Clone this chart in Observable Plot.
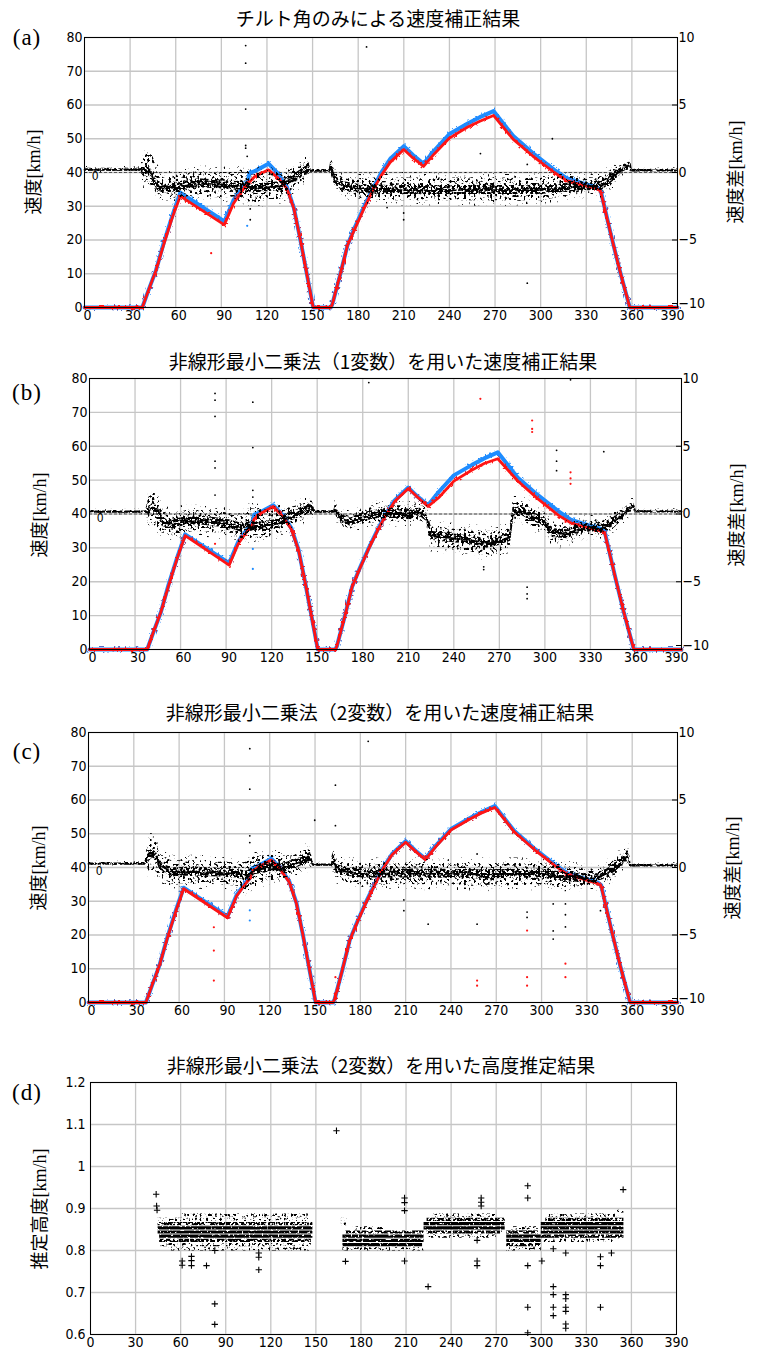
<!DOCTYPE html>
<html><head><meta charset="utf-8">
<script src="https://cdn.jsdelivr.net/npm/d3@7"></script>
<script src="https://cdn.jsdelivr.net/npm/@observablehq/plot@0.6"></script>
<style>
body{margin:0;background:#fff;}
#root{position:relative;width:758px;height:1349px;overflow:hidden;background:#fff;}
.panel{position:absolute;left:0;}
.lbl{position:absolute;white-space:nowrap;transform:translate(-50%,-50%);color:#000;line-height:1;}
.title{font-family:"Noto Sans CJK JP",sans-serif;font-size:19px;}
.tag{font-family:"Liberation Serif","DejaVu Serif",serif;font-size:23px;letter-spacing:1px;}
.ylab{font-family:"Noto Sans CJK JP",sans-serif;font-size:18px;transform:translate(-50%,-50%) rotate(-90deg);}
.ylab span{font-family:"Liberation Serif","DejaVu Serif",serif;}
</style></head><body><div id="root"></div>
<svg width="0" height="0" style="position:absolute" id="fx"></svg>
<script>
// ---------- ticks ----------
const timeTicks = [0,30,60,90,120,150,180,210,240,270,300,330,360,390];
const speedTicks = [0,10,20,30,40,50,60,70,80];
const diffTicks = [-10,-5,0,5,10];
const heightTicks = [0.6,0.7,0.8,0.9,1,1.1,1.2];

// ---------- speed curves (km/h) ----------
const speedTime = [0,38,42,47,52,58,63,92,98,104,107,108.5,112,121,127,133,137.7,142,150.4,162,163,168,173,178,184,190,195,201,210,216,223,230,240,252,260,269,282,295,309,317,328,337,339.4,346,352,358.6,390];
const refSpeed = [0,0,5,11,19,27.5,34,25.5,31.8,35.5,37,39.8,40.4,42.6,39.8,35.8,29.5,20,0,0,1,9.5,18.5,24,30,35.5,39.8,44,47.8,45.2,42.6,46.5,51.4,54.5,56.4,58.2,50.8,45.7,40.8,38.3,36.8,35.6,34.8,22,11,0,0];
const corrSpeedA = [0,0,5,11,18.5,27,33,24.5,30.8,34.8,36.3,37.2,38.8,40.8,38.5,35.3,29.3,20,0,0,1,9.5,18.5,23.5,29.5,35,39,43,46.8,44.3,41.8,45.5,50.2,53.5,55.2,56.9,49.8,44.8,40,37.6,36.2,35.2,34.5,22,11,0,0];
const corrSpeedB = [0,0,5,11,18.7,27.2,33.6,24.9,31.2,35,36.6,38.5,40,42.2,39.5,35.5,29.3,20,0,0,1,9.5,18.5,23.8,29.8,35.3,39.5,43.7,47.5,45,42.2,44.8,49.7,53,54.9,56.3,49.8,44.6,39.6,37.4,36,35,34.5,22,11,0,0];
const corrSpeedC = [0,0,5,11,18.8,27.3,33.7,25.1,31.5,35.2,36.8,38.8,40,42.2,39.5,35.6,29.3,20,0,0,1,9.5,18.5,23.8,29.8,35.3,39.6,43.8,47.5,45,42.3,46.2,51.1,54.2,56.1,57.8,50.5,45.4,40.5,38,36.5,35.3,34.6,22,11,0,0];

// ---------- speed difference clouds (km/h, right axis): centre, lower, upper ----------
const diffTimeA = [0,37,39,42,45,48,52,60,75,90,100,105,110,120,130,135,140,145,148,149,161,162,165,170,180,200,250,300,320,335,340,345,350,355,358.7,359.5,390];
const diffMeanA = [0.2,0.2,0,0.3,-0.4,-1,-1.2,-1.1,-0.8,-0.9,-1,-0.9,-1.2,-1.1,-1,-0.5,-0.3,0.1,0.2,0.12,0.12,0.5,-0.6,-1,-1.2,-1.3,-1.3,-1.3,-1.1,-1,-1,-0.6,-0.1,0.27,0.64,0.15,0.15];
const diffLowA = [0.08,0.08,-0.8,-0.6,-1.2,-1.6,-1.8,-1.9,-1.7,-1.9,-1.8,-2,-2.5,-2,-2,-1.4,-1,-0.5,-0.1,0.02,0.02,-0.1,-1.1,-1.5,-1.9,-2.1,-2.1,-2.1,-1.7,-1.5,-1.5,-1.1,-0.6,-0.1,0.3,0.05,0.05];
const diffHighA = [0.32,0.32,1,1.6,1.2,0.2,-0.4,-0.2,0.1,0,0,0.3,-0.1,0,0,0.2,0.4,0.7,0.9,0.22,0.22,0.9,0,-0.4,-0.4,-0.4,-0.4,-0.4,-0.3,-0.4,-0.3,0.1,0.4,0.6,0.9,0.25,0.25];

const diffTimeB = [0,37,39,42,45,48,55,60,75,90,100,105,115,125,130,140,147,148.5,161,162,165,172,178,190,205,218,222,225,240,255,262,270,277,279,285,292,300,305,315,320,330,337,345,352,358.5,359.5,390];
const diffMeanB = [0.15,0.15,0.3,0.5,0.2,-0.6,-0.8,-0.6,-0.5,-0.7,-1,-0.9,-0.9,-0.7,-0.3,0.1,0.5,0.15,0.15,0.3,-0.3,-0.6,-0.3,0,0,0.1,-0.2,-1.6,-1.8,-2,-2.2,-2,-1.7,0.2,0.2,-0.2,-0.6,-1.4,-1.5,-1.2,-1,-1.1,-0.6,0,0.6,0.18,0.18];
const diffLowB = [0.05,0.05,-0.6,-0.8,-1,-1.4,-1.6,-1.4,-1.3,-1.5,-1.8,-1.8,-1.8,-1.5,-1,-0.5,0,0.05,0.05,0,-0.8,-1.1,-0.8,-0.6,-0.6,-0.5,-0.8,-2.4,-2.6,-2.9,-3.1,-2.8,-2.5,-0.5,-0.5,-0.9,-1.3,-2.1,-2.2,-1.8,-1.5,-1.6,-1.1,-0.4,0.3,0.08,0.08];
const diffHighB = [0.25,0.25,1.2,1.7,1.3,0.2,0,0.2,0.3,0.1,-0.2,0.4,0.3,0.2,0.4,0.7,1,0.25,0.25,0.8,0.1,-0.2,0.2,0.6,0.6,0.7,0.4,-0.9,-1.1,-1.2,-1.3,-1.2,-1,0.9,0.9,0.5,0.1,-0.8,-0.9,-0.6,-0.5,-0.6,-0.1,0.4,0.9,0.28,0.28];

const diffTimeC = [0,37,39,42,45,47,55,70,90,100,105,110,120,130,140,147,148.5,161,162,164,170,180,220,260,300,315,330,337,345,352,357.5,358.5,390];
const diffMeanC = [0.27,0.27,0.6,1,0.8,0.2,-0.35,-0.3,-0.4,-0.5,-0.6,-0.2,0,0,0.4,0.8,0.2,0.2,0.8,-0.1,-0.3,-0.45,-0.45,-0.5,-0.45,-0.7,-0.8,-0.8,-0.3,0.3,0.9,0.15,0.15];
const diffLowC = [0.17,0.17,-0.3,-0.2,-0.3,-0.7,-1.2,-1.2,-1.3,-1.4,-1.8,-1.2,-1,-0.8,-0.3,0,0.1,0.1,0,-0.8,-1.1,-1.3,-1.3,-1.4,-1.3,-1.4,-1.4,-1.4,-0.9,-0.3,0.4,0.05,0.05];
const diffHighC = [0.37,0.37,1.5,2.3,2,1,0.5,0.5,0.4,0.3,0.4,0.8,0.9,0.8,1,1.6,0.3,0.3,1.5,0.5,0.3,0.3,0.3,0.3,0.3,0.1,-0.1,-0.2,0.3,0.9,1.6,0.25,0.25];

// isolated speed-difference points (right axis)
const diffOutTimeA = [106,106,106,106,106,107,109,109,185.5,199,209.9,209.9,260.4,291.2,307.7,291.2];
const diffOutA = [9.4,8.1,4.7,2.0,1.8,1.2,-2.7,-3.5,9.3,-2.6,-3.0,-3.5,1.4,0.6,2.5,-8.2];
const diffOutTimeB = [82.7,82.7,82.7,82.7,82.7,82.7,107.6,107.6,107.6,107.6,184,316.9,307.7,307.7,307.7,288.3,288.3,288.3,259.7,259.7,338.8];
const diffOutB = [8.9,8.4,7.2,3.9,3.4,1.4,8.25,4.9,1.75,1.25,9.7,9.9,4.7,3.9,3.2,-5.4,-5.9,-6.25,-3.9,-4.1,4.6];
const diffOutTimeC = [106.8,106.8,106.8,106.8,163.5,163.5,185.2,149.8,257.3,257.3,290.4,290.4,307.7,307.7,307.7,315.8,315.8,315.8,339,224.9,208.8,208.8];
const diffOutC = [8.8,5.8,2.35,1.85,6.1,3.1,9.35,3.5,1.0,-4.2,-3.3,-3.7,-2.7,-4.7,-5.3,-2.7,-3.5,-4.4,-3.2,-4.2,-2.4,-3.2];

// isolated speed points (left axis)
const corrOutTimeA = [83.3];
const corrOutA = [16.1];
const corrOutTimeB = [82.7,257.5,291.6,291.6,291.6,316.9,316.9,316.9];
const corrOutB = [31.2,74,67.6,65.1,64.2,52.3,50.5,48.9];
const corrOutTimeC = [83,83,83,163.5,257.3,257.3,290.4,290.4,290.4,315.8,315.8];
const corrOutC = [22.3,15.4,6.5,7.5,6.5,5,21.3,7.5,5,11.5,7.5];
const refOutTimeA = [107];
const refOutA = [24.2];
const refOutTimeB = [107.6,107.6];
const refOutB = [29.7,23.8];
const refOutTimeC = [106.8,106.8];
const refOutC = [27.3,24.3];

const zeroLabel = [{t: 7, d: 0, s: "0"}];

// ---------- (d) estimated height ----------
const denseRowStart = [45,45,46,168,168,168,222,222,277,277,300,300,300];
const denseRowEnd   = [148,148,148,222,222,221,276,276,300,300,355,355,355];
const denseRowLevel = [0.844,0.854,0.834,0.824,0.834,0.814,0.864,0.854,0.834,0.824,0.854,0.864,0.844];
const midRowStart = [45,46,170,224,224,277,277,300,303];
const midRowEnd   = [148,147,222,274,276,298,300,355,355];
const midRowLevel = [0.864,0.824,0.844,0.844,0.874,0.844,0.814,0.834,0.874];
const sparseRowStart = [45,47,50,60,168,167,167,175,225,228,277,280,302,305,350];
const sparseRowEnd   = [147,147,146,145,222,171,171,195,270,270,300,298,352,352,355];
const sparseRowLevel = [0.874,0.814,0.804,0.884,0.804,0.864,0.874,0.854,0.834,0.884,0.804,0.854,0.824,0.884,0.894];
const heightOutTime = [43.7,44,44.3,61,61,67.2,67.2,67.2,77.2,82.7,82.7,82.7,112,112,112,163.7,169.7,209,209,209,209,224.7,260,260,260,257.3,257.3,257.3,291,291,291,291,291,300.4,308,308,308,308,308,316.3,316.3,316.3,316.3,316.3,316.3,316.3,339.4,339.4,339.4,346.7,354.5];
const heightOut = [0.934,0.906,0.896,0.775,0.765,0.786,0.776,0.764,0.764,0.673,0.624,0.8,0.754,0.784,0.794,1.085,0.774,0.925,0.914,0.895,0.775,0.714,0.925,0.915,0.906,0.824,0.775,0.764,0.954,0.925,0.764,0.665,0.604,0.775,0.804,0.714,0.695,0.665,0.645,0.794,0.695,0.685,0.665,0.655,0.625,0.615,0.785,0.764,0.665,0.794,0.945];

// ---------- helpers ----------
const zip = (keys, ...arrs) => arrs[0].map((_, i) => Object.fromEntries(keys.map((k, j) => [k, arrs[j][i]])));
const toLeft = d => 40 + 4 * d;                 // speed difference → speed axis units
const signed = v => v < 0 ? "\u2212" + (-v) : String(v);
const BLUE = "#1e8cff", RED = "#ff1414";
const tickFont = "'Liberation Sans Narrow','DejaVu Sans Condensed','Liberation Sans',sans-serif";
const gridStyle = {stroke: "#c6c6c6", strokeOpacity: 1, strokeWidth: 1.3};

// speckle filters (texture for the dense point clouds)
const defs = d3.select("#fx").append("defs");
function speckle(id, freq, thr, seed) {
  const f = defs.append("filter").attr("id", id).attr("x", "-2%").attr("y", "-40%")
    .attr("width", "104%").attr("height", "180%").attr("color-interpolation-filters", "sRGB");
  f.append("feTurbulence").attr("type", "fractalNoise").attr("baseFrequency", freq)
    .attr("numOctaves", 1).attr("seed", seed).attr("result", "n");
  const k = 14;
  f.append("feColorMatrix").attr("in", "n").attr("type", "matrix")
    .attr("values", `0 0 0 0 0  0 0 0 0 0  0 0 0 0 0  ${k} 0 0 0 ${-k * thr}`).attr("result", "m");
  f.append("feComposite").attr("in", "SourceGraphic").attr("in2", "m").attr("operator", "in");
}
speckle("spk-vsparse", 0.42, 0.66, 21);
speckle("spk-sparse", 0.42, 0.56, 3);
speckle("spk-dense", 0.42, 0.46, 7);
speckle("spk-line", 0.5, 0.4, 11);
speckle("spk-halo", 0.45, 0.6, 17);
speckle("spk-row-dense", 0.45, 0.3, 5);
speckle("spk-row-mid", 0.45, 0.42, 9);
speckle("spk-row-sparse", 0.45, 0.54, 13);
function applySpeckle(svg) {
  svg.querySelectorAll("[aria-description^='spk-']").forEach(g =>
    g.setAttribute("filter", `url(#${g.getAttribute("aria-description")})`));
}

const root = document.getElementById("root");
function label(cls, x, y, html) {
  const d = document.createElement("div");
  d.className = "lbl " + cls;
  d.style.left = x + "px"; d.style.top = y + "px";
  d.innerHTML = html;
  root.appendChild(d);
}

function speedPanel(p) {
  const ref = zip(["t", "v"], speedTime, refSpeed);
  const corr = zip(["t", "v"], speedTime, p.corr);
  const diff = zip(["t", "m", "lo", "hi"], p.dt, p.dm, p.dlo, p.dhi);
  const out = zip(["t", "d"], p.ot, p.od);
  const rOut = zip(["t", "v"], p.rot, p.ro);
  const bOut = zip(["t", "v"], p.bot, p.bo);
  const inner = d => Math.min(0.33, (d.hi - d.lo) / 3);
  const outer = d => Math.min(0.4, (d.hi - d.lo) / 2);
  const chart = Plot.plot({
    width: 758, height: p.mt + p.h + p.mb,
    marginLeft: p.ml, marginRight: p.mr, marginTop: p.mt, marginBottom: p.mb,
    x: {domain: [0, 390], axis: null},
    y: {domain: [0, 80], axis: null},
    style: {fontFamily: tickFont, fontSize: "14px", background: "white", color: "black"},
    marks: [
      Plot.gridX(timeTicks, gridStyle),
      Plot.gridY(speedTicks, gridStyle),
      p.dashed ? Plot.ruleY([0], {y: toLeft, stroke: "#555", strokeWidth: 1, strokeDasharray: "3,2"}) : null,
      Plot.line(ref, {x: "t", y: "v", stroke: BLUE, strokeWidth: 7, ariaDescription: "spk-halo"}),
      Plot.line(ref, {x: "t", y: "v", stroke: BLUE, strokeWidth: 4}),
      Plot.dot(bOut, {x: "t", y: "v", r: 1.1, fill: BLUE}),
      Plot.line(corr, {x: "t", y: "v", stroke: RED, strokeWidth: 5.5, ariaDescription: "spk-halo"}),
      Plot.line(corr, {x: "t", y: "v", stroke: RED, strokeWidth: 2.8}),
      Plot.dot(rOut, {x: "t", y: "v", r: 1.1, fill: RED}),
      Plot.areaY(diff, {x: "t", y1: d => toLeft(d.lo - outer(d)), y2: d => toLeft(d.hi + outer(d)), fill: "black", ariaDescription: "spk-vsparse"}),
      Plot.areaY(diff, {x: "t", y1: d => toLeft(d.lo), y2: d => toLeft(d.hi), fill: "black", ariaDescription: "spk-sparse"}),
      Plot.areaY(diff, {x: "t", y1: d => toLeft(d.m - inner(d)), y2: d => toLeft(d.m + inner(d)), fill: "black", ariaDescription: "spk-dense"}),
      Plot.line(diff, {x: "t", y: d => toLeft(d.m), stroke: "black", strokeWidth: 1.8, ariaDescription: "spk-line"}),
      Plot.dot(out, {x: "t", y: d => toLeft(d.d), r: 0.9, fill: "black"}),
      Plot.text(zeroLabel, {x: "t", y: d => toLeft(d.d), text: "s", dy: 4, fontSize: 12}),
      Plot.frame({stroke: "black", strokeWidth: 1}),
      Plot.axisY(speedTicks, {anchor: "left", tickSize: 0, tickPadding: 2, label: null}),
      Plot.axisY(diffTicks.filter(d => d > -10).map(toLeft), {anchor: "right", tickSize: -6, tickPadding: 7, label: null,
        textAnchor: "start", tickFormat: v => signed((v - 40) / 4)}),
      Plot.axisY(diffTicks.filter(d => d === -10).map(toLeft), {anchor: "right", tickSize: -6, tickPadding: 7, label: null,
        textAnchor: "start", dy: -4, tickFormat: v => signed((v - 40) / 4)}),
      Plot.axisX(timeTicks.filter(d => d < 100), {anchor: "bottom", tickSize: 0, tickPadding: 3, dx: 3, label: null}),
      Plot.axisX(timeTicks.filter(d => d >= 100 && d < 390), {anchor: "bottom", tickSize: 0, tickPadding: 3, label: null}),
      Plot.axisX(timeTicks.filter(d => d === 390), {anchor: "bottom", tickSize: 0, tickPadding: 3, dx: -5, label: null})
    ]
  });
  chart.classList.add("panel");
  chart.style.top = p.top + "px";
  applySpeckle(chart);
  root.appendChild(chart);
}

function heightPanel(p) {
  const mk = (s, e, l) => zip(["t1", "t2", "v"], s, e, l);
  const chart = Plot.plot({
    width: 758, height: p.mt + p.h + p.mb,
    marginLeft: p.ml, marginRight: p.mr, marginTop: p.mt, marginBottom: p.mb,
    x: {domain: [0, 390], axis: null},
    y: {domain: [0.6, 1.2], axis: null},
    style: {fontFamily: tickFont, fontSize: "14px", background: "white", color: "black"},
    marks: [
      Plot.gridX(timeTicks, gridStyle),
      Plot.gridY(heightTicks, gridStyle),
      Plot.ruleY(mk(sparseRowStart, sparseRowEnd, sparseRowLevel), {y: "v", x1: "t1", x2: "t2", stroke: "black", strokeWidth: 3.2, ariaDescription: "spk-row-sparse"}),
      Plot.ruleY(mk(midRowStart, midRowEnd, midRowLevel), {y: "v", x1: "t1", x2: "t2", stroke: "black", strokeWidth: 3.2, ariaDescription: "spk-row-mid"}),
      Plot.ruleY(mk(denseRowStart, denseRowEnd, denseRowLevel), {y: "v", x1: "t1", x2: "t2", stroke: "black", strokeWidth: 3.2, ariaDescription: "spk-row-dense"}),
      Plot.dot(zip(["t", "v"], heightOutTime, heightOut), {x: "t", y: "v", symbol: "plus", r: 2.2, stroke: "black", strokeWidth: 1.1}),
      Plot.frame({stroke: "black", strokeWidth: 1}),
      Plot.axisY(heightTicks, {anchor: "left", tickSize: 0, tickPadding: 5, label: null, tickFormat: d => String(+d.toFixed(1))}),
      Plot.axisX(timeTicks, {anchor: "bottom", tickSize: 0, tickPadding: 3, label: null})
    ]
  });
  chart.classList.add("panel");
  chart.style.top = p.top + "px";
  applySpeckle(chart);
  root.appendChild(chart);
}

speedPanel({top: 0, ml: 84, mr: 81, mt: 37, h: 270, mb: 33, dashed: true, corr: corrSpeedA,
  dt: diffTimeA, dm: diffMeanA, dlo: diffLowA, dhi: diffHighA, ot: diffOutTimeA, od: diffOutA,
  rot: corrOutTimeA, ro: corrOutA, bot: refOutTimeA, bo: refOutA});
speedPanel({top: 341, ml: 89, mr: 77, mt: 37, h: 271, mb: 33, dashed: true, corr: corrSpeedB,
  dt: diffTimeB, dm: diffMeanB, dlo: diffLowB, dhi: diffHighB, ot: diffOutTimeB, od: diffOutB,
  rot: corrOutTimeB, ro: corrOutB, bot: refOutTimeB, bo: refOutB});
speedPanel({top: 695, ml: 88, mr: 81, mt: 37, h: 270, mb: 33, dashed: false, corr: corrSpeedC,
  dt: diffTimeC, dm: diffMeanC, dlo: diffLowC, dhi: diffHighC, ot: diffOutTimeC, od: diffOutC,
  rot: corrOutTimeC, ro: corrOutC, bot: refOutTimeC, bo: refOutC});
heightPanel({top: 1045, ml: 90, mr: 82, mt: 37, h: 252, mb: 15});

// ---------- texts ----------
label("title", 378, 17, "チルト角のみによる速度補正結果");
label("title", 383, 360, "非線形最小二乗法（1変数）を用いた速度補正結果");
label("title", 380, 711, "非線形最小二乗法（2変数）を用いた速度補正結果");
label("title", 381, 1064, "非線形最小二乗法（2変数）を用いた高度推定結果");
label("tag", 27, 37, "(a)");
label("tag", 27, 392, "(b)");
label("tag", 27, 751, "(c)");
label("tag", 27, 1092, "(d)");
label("ylab", 33, 172, "速度<span>[km/h]</span>");
label("ylab", 39, 515, "速度<span>[km/h]</span>");
label("ylab", 38, 868, "速度<span>[km/h]</span>");
label("ylab", 39, 1209, "推定高度<span>[km/h]</span>");
label("ylab", 735, 172, "速度差<span>[km/h]</span>");
label("ylab", 736, 515, "速度差<span>[km/h]</span>");
label("ylab", 732, 868, "速度差<span>[km/h]</span>");
</script></body></html>
